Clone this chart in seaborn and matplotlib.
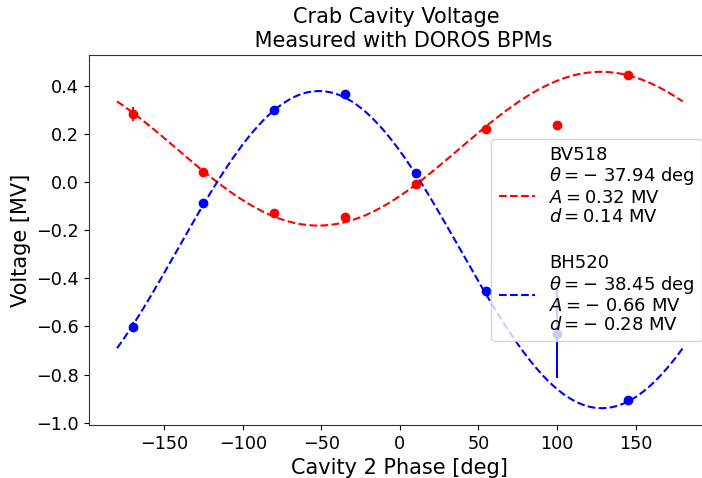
import numpy as np
import pandas as pd
import matplotlib
matplotlib.use("Agg")
import matplotlib.pyplot as plt
import seaborn as sns

# Measured data
phase = [-170, -125, -80, -35, 10, 55, 100, 145]
bv518 = [0.285, 0.041, -0.129, -0.146, -0.008, 0.224, 0.238, 0.447]
bv518_err = [0.03, 0.005, 0.012, 0.02, 0.005, 0.005, 0.005, 0.005]
bh520 = [-0.602, -0.084, 0.30, 0.368, 0.038, -0.452, -0.63, -0.906]
bh520_err = [0.02, 0.005, 0.005, 0.005, 0.005, 0.005, 0.185, 0.005]

# Fit parameters (from legend)
fit_bv518 = dict(theta=-37.94, A=0.32, d=0.14)
fit_bh520 = dict(theta=-38.45, A=-0.66, d=-0.28)
fit_range = (-180, 180)

sns.set_style("ticks", {"text.color": "black", "axes.labelcolor": "black",
                        "xtick.color": "black", "ytick.color": "black",
                        "axes.edgecolor": "0.2"})
plt.rcParams['font.family'] = ['DejaVu Sans']

fig = plt.figure(figsize=(7.02, 4.78), dpi=100)
ax = fig.add_axes([88.8 / 702, 53 / 478, (711 - 88.8) / 702, (425 - 55) / 478])

xf = np.linspace(fit_range[0], fit_range[1], 361)

def model(x, p):
    return p['d'] + p['A'] * np.sin(np.deg2rad(x + p['theta']))

def num(v):
    return f"-\\ {abs(v):.2f}" if v < 0 else f"{v:.2f}"

def label(name, p, trailing=""):
    return (f"{name}\n$\\theta = {num(p['theta'])}$ deg\n$A = {num(p['A'])}$ MV\n"
            f"$d = {num(p['d'])}$ MV" + trailing)

df_fit = pd.DataFrame({
    'x': np.concatenate([xf, xf]),
    'y': np.concatenate([model(xf, fit_bv518), model(xf, fit_bh520)]),
    's': ['BV518'] * len(xf) + ['BH520'] * len(xf),
})

sns.lineplot(data=df_fit[df_fit.s == 'BV518'], x='x', y='y', color='red',
             linestyle='--', linewidth=1.5, ax=ax,
             label=label('BV518', fit_bv518, "\n"))
ax.errorbar(phase, bv518, yerr=bv518_err, fmt='o', color='red', markersize=6)

sns.lineplot(data=df_fit[df_fit.s == 'BH520'], x='x', y='y', color='blue',
             linestyle='--', linewidth=1.5, ax=ax,
             label=label('BH520', fit_bh520))
ax.errorbar(phase, bh520, yerr=bh520_err, fmt='o', color='blue', markersize=6)

ax.set_title("Crab Cavity Voltage \n Measured with DOROS BPMs", fontsize=15)
ax.set_xlabel("Cavity 2 Phase [deg]", fontsize=15)
ax.set_ylabel("Voltage [MV]", fontsize=15)
ax.tick_params(labelsize=12.7)
ax.set_xticks([-150, -100, -50, 0, 50, 100, 150])
ax.set_yticks([-1.0, -0.8, -0.6, -0.4, -0.2, 0.0, 0.2, 0.4])
leg = ax.legend(loc='center right', fontsize=13)
for t in leg.get_texts():
    t.set_linespacing(1.09)

fig.savefig("out.png", dpi=100)
